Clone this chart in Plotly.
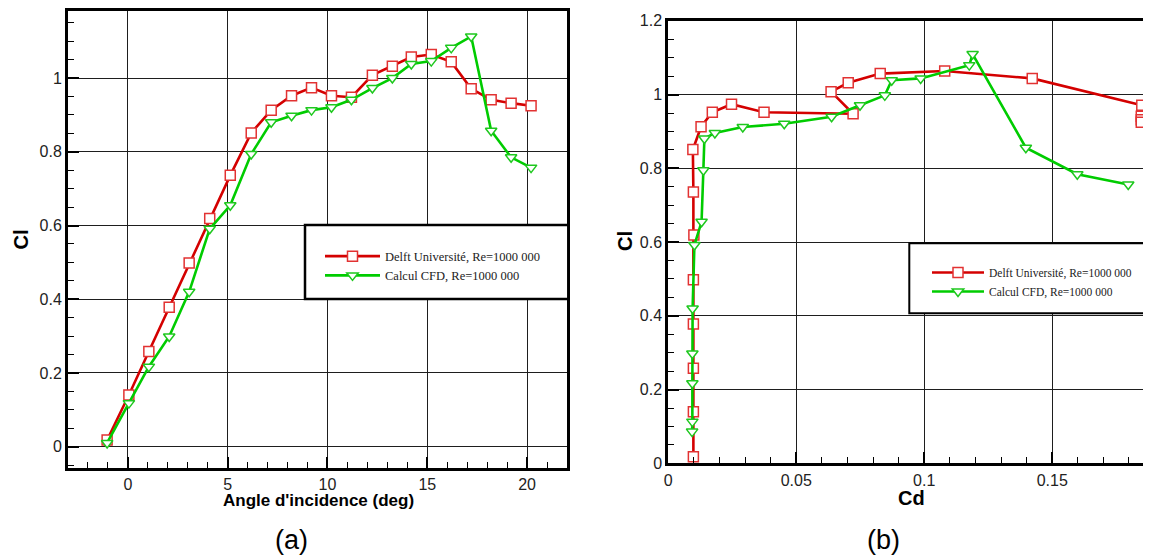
import plotly.graph_objects as go

# ---------------- data ----------------
alpha = [-1.04, 0.05, 1.05, 2.07, 3.07, 4.10, 5.13, 6.18, 7.18, 8.20, 9.20,
         10.20, 11.20, 12.25, 13.25, 14.20, 15.20, 16.20, 17.20, 18.20, 19.20, 20.20]
cl_delft = [0.018, 0.140, 0.258, 0.378, 0.498, 0.619, 0.736, 0.851, 0.913, 0.952, 0.974,
            0.952, 0.948, 1.008, 1.032, 1.057, 1.064, 1.044, 0.971, 0.941, 0.932, 0.925]
cl_cfd_a = [0.010, 0.118, 0.217, 0.299, 0.420, 0.591, 0.655, 0.794, 0.880, 0.898, 0.913,
            0.921, 0.941, 0.973, 1.000, 1.038, 1.046, 1.082, 1.113, 0.857, 0.785, 0.757]

cd_delft = [0.0098, 0.0098, 0.0098, 0.0098, 0.0098, 0.0100, 0.0098, 0.0096, 0.0128, 0.0172, 0.0247,
            0.0374, 0.0722, 0.0636, 0.0703, 0.0828, 0.1080, 0.1422, 0.1850, 0.1848, 0.1848, 0.1848]
cd_cfd = [0.0093, 0.0094, 0.0094, 0.0094, 0.0095, 0.0102, 0.0130, 0.0137, 0.0141, 0.0182, 0.0291,
          0.0453, 0.0638, 0.0749, 0.0846, 0.0873, 0.0986, 0.1176, 0.1189, 0.1397, 0.1598, 0.1797]
cl_cfd_b = [0.086, 0.113, 0.217, 0.298, 0.420, 0.592, 0.655, 0.795, 0.881, 0.896, 0.912,
            0.921, 0.940, 0.971, 0.998, 1.039, 1.044, 1.080, 1.110, 0.856, 0.784, 0.756]

name_delft = "Delft Université, Re=1000 000"
name_cfd = "Calcul CFD, Re=1000 000"

xticks_a = [0, 5, 10, 15, 20]
yticks = [0, 0.2, 0.4, 0.6, 0.8, 1.0, 1.2]
xticks_b = [0, 0.05, 0.1, 0.15]

# ---------------- style ----------------
OFF = 8  # page body margin
W, H = 1151 - OFF, 559 - OFF
RED = "rgb(212,0,0)"
RED_M = "rgb(226,50,50)"
GREEN = "rgb(0,204,0)"
GREEN_M = "rgb(30,200,30)"


def px(x):
    return (x - OFF) / W


def py(y):
    return 1 - (y - OFF) / H


fig = go.Figure()

common_line = dict(width=2.6)
fig.add_trace(go.Scatter(x=alpha, y=cl_delft, mode="lines+markers", name=name_delft,
                         line=dict(color=RED, **common_line),
                         marker=dict(symbol="square", size=10, color="white",
                                     line=dict(color=RED_M, width=1.5)),
                         xaxis="x", yaxis="y", legend="legend"))
fig.add_trace(go.Scatter(x=alpha, y=cl_cfd_a, mode="lines+markers", name=name_cfd,
                         line=dict(color=GREEN, **common_line),
                         marker=dict(symbol="triangle-down", size=10, color="white",
                                     line=dict(color=GREEN_M, width=1.5)),
                         xaxis="x", yaxis="y", legend="legend"))
fig.add_trace(go.Scatter(x=cd_delft, y=cl_delft, mode="lines+markers", name=name_delft,
                         line=dict(color=RED, **common_line),
                         marker=dict(symbol="square", size=10, color="white",
                                     line=dict(color=RED_M, width=1.5)),
                         cliponaxis=False,
                         xaxis="x2", yaxis="y2", legend="legend2"))
fig.add_trace(go.Scatter(x=cd_cfd, y=cl_cfd_b, mode="lines+markers", name=name_cfd,
                         line=dict(color=GREEN, **common_line),
                         marker=dict(symbol="triangle-down", size=10, color="white",
                                     line=dict(color=GREEN_M, width=1.5)),
                         xaxis="x2", yaxis="y2", legend="legend2"))

tickfont = dict(family="Liberation Sans, Arial", size=16, color="#222")
grid = dict(showgrid=True, gridcolor="rgb(30,30,30)", gridwidth=1, zeroline=False)
axline = dict(showline=True, linecolor="black", linewidth=3, automargin=False,
              ticks="inside", ticklen=11, tickwidth=2, tickcolor="black",
              tickfont=tickfont)

fig.update_layout(
    width=W, height=H,
    margin=dict(l=0, r=0, t=0, b=0, autoexpand=False),
    paper_bgcolor="white", plot_bgcolor="white",
    showlegend=True,
    xaxis=dict(domain=[px(68), px(567)], range=[-3, 22], anchor="y",
               tickvals=xticks_a, ticktext=[str(v) for v in xticks_a],
               minor=dict(dtick=1, tick0=0, ticks="inside", ticklen=6, tickwidth=1,
                          tickcolor="black", showgrid=False),
               mirror=True, **grid, **axline),
    yaxis=dict(domain=[py(468), py(11)], range=[-0.058, 1.182], anchor="x",
               tickvals=yticks[:-1], ticktext=["0", "0.2", "0.4", "0.6", "0.8", "1"],
               minor=dict(dtick=0.05, tick0=0, ticks="inside", ticklen=6, tickwidth=1,
                          tickcolor="black", showgrid=False),
               mirror=True, **grid, **axline),
    xaxis2=dict(domain=[px(668.3), 1.0], range=[0, 0.1886], anchor="y2",
                tickvals=xticks_b, ticktext=["0", "0.05", "0.1", "0.15"],
                minor=dict(dtick=0.01, tick0=0, ticks="inside", ticklen=6, tickwidth=1,
                           tickcolor="black", showgrid=False),
                mirror=True, **grid, **axline),
    yaxis2=dict(domain=[py(463.3), py(20.7)], range=[0, 1.2005], anchor="x2",
                tickvals=yticks, ticktext=["0", "0.2", "0.4", "0.6", "0.8", "1", "1.2"],
                minor=dict(dtick=0.05, tick0=0, ticks="inside", ticklen=6, tickwidth=1,
                           tickcolor="black", showgrid=False),
                mirror=False, **grid, **axline),
    legend=dict(x=px(320), y=py(266), xanchor="left", yanchor="middle",
                bgcolor="rgba(0,0,0,0)", borderwidth=0, itemwidth=55,
                font=dict(family="Liberation Serif, Times New Roman", size=12.5, color="#222"),
                tracegroupgap=0),
    legend2=dict(x=px(927), y=py(282), xanchor="left", yanchor="middle",
                 bgcolor="rgba(0,0,0,0)", borderwidth=0, itemwidth=52,
                 font=dict(family="Liberation Serif, Times New Roman", size=11.5, color="#222"),
                 tracegroupgap=0),
)

# legend frames (white boxes with black border)
fig.add_shape(type="rect", xref="paper", yref="paper",
              x0=px(305), x1=px(568.3), y0=py(299), y1=py(225),
              line=dict(color="black", width=2.5), fillcolor="white", layer="above")
fig.add_shape(type="rect", xref="paper", yref="paper",
              x0=px(909.3), x1=px(1165), y0=py(313.3), y1=py(243.3),
              line=dict(color="black", width=2), fillcolor="white", layer="above")

titlefont = dict(family="Liberation Sans, Arial", color="black")
ann = [
    dict(text="<b>Angle d'incidence (deg)</b>", x=px(318), y=py(500), size=17, angle=0),
    dict(text="<b>Cl</b>", x=px(20.5), y=py(240), size=20, angle=-90),
    dict(text="<b>Cd</b>", x=px(911.5), y=py(498), size=20, angle=0),
    dict(text="<b>Cl</b>", x=px(625), y=py(241), size=20, angle=-90),
    dict(text="(a)", x=px(291.7), y=py(540), size=27, angle=0),
    dict(text="(b)", x=px(883), y=py(540), size=27, angle=0),
]
for a in ann:
    fig.add_annotation(text=a["text"], x=a["x"], y=a["y"], xref="paper", yref="paper",
                       xanchor="center", yanchor="middle", showarrow=False,
                       textangle=a["angle"], font=dict(size=a["size"], **titlefont))

fig.write_html("out.html")
